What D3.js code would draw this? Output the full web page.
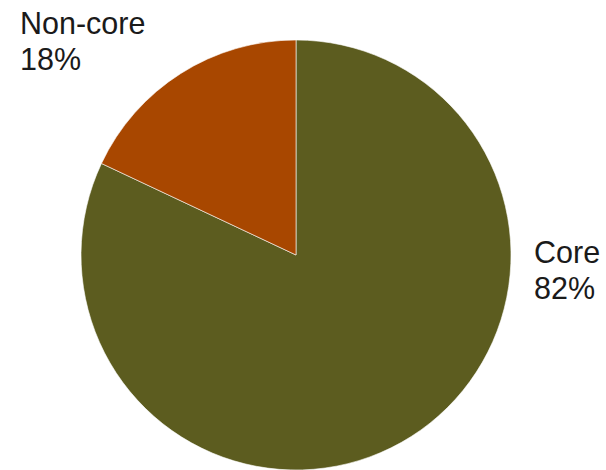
<!DOCTYPE html>
<html><head><meta charset="utf-8">
<script src="https://cdn.jsdelivr.net/npm/d3@7"></script>
<style>html,body{margin:0;padding:0;background:#fff;}</style>
</head><body>
<svg id="chart" width="606" height="470"></svg>
<script>
const categories = ["Core", "Non-core"];
const values = [82, 18];
const labels = ["82%", "18%"];
const colors = ["#5c5c1f", "#a84700"];

const svg = d3.select("#chart");
const cx = 296, cy = 255, r = 215;
const g = svg.append("g").attr("transform", `translate(${cx},${cy})`);
const pie = d3.pie().sort(null).value(d => d.v);
const arcs = pie(categories.map((c, i) => ({c, v: values[i], i})));
const arc = d3.arc().innerRadius(0).outerRadius(r);
g.selectAll("path").data(arcs).join("path")
  .attr("d", arc)
  .attr("fill", d => colors[d.data.i])
  .attr("stroke", "#fff").attr("stroke-width", 0.6);

const labelPos = [{x: 534, y: 263}, {x: 20, y: 34}];
const t = svg.selectAll("text.lbl").data(categories).join("text")
  .attr("class", "lbl")
  .attr("font-family", "'Liberation Sans', Arial, sans-serif")
  .attr("font-size", 30.5)
  .attr("fill", "#1a1a1a");
t.append("tspan").attr("x", (d, i) => labelPos[i].x).attr("y", (d, i) => labelPos[i].y).text(d => d);
t.append("tspan").attr("x", (d, i) => labelPos[i].x).attr("y", (d, i) => labelPos[i].y + 36).text((d, i) => labels[i]);
</script>
</body></html>
